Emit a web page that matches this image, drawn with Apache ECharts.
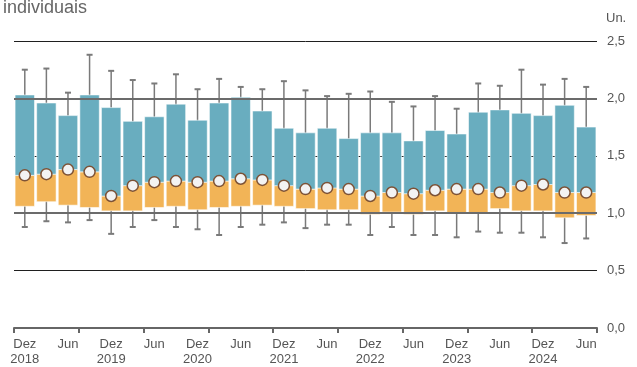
<!DOCTYPE html>
<html>
<head>
<meta charset="UTF-8">
<script src="https://cdn.jsdelivr.net/npm/echarts@6/dist/echarts.min.js"></script>
<style>
  html, body { margin: 0; padding: 0; background: #fff; }
  #chart { width: 637px; height: 367px; }
</style>
</head>
<body>
<div id="chart"></div>
<script>
// trimestres, Dez 2018 .. Jun 2025
var categories = [
  'Dez\n2018', 'Mar', 'Jun', 'Set',
  'Dez\n2019', 'Mar', 'Jun', 'Set',
  'Dez\n2020', 'Mar', 'Jun', 'Set',
  'Dez\n2021', 'Mar', 'Jun', 'Set',
  'Dez\n2022', 'Mar', 'Jun', 'Set',
  'Dez\n2023', 'Mar', 'Jun', 'Set',
  'Dez\n2024', 'Mar', 'Jun'
];
var whiskerLow  = [0.88, 0.93, 0.92, 0.94, 0.82, 0.88, 0.94, 0.88, 0.86, 0.81, 0.88, 0.90, 0.92, 0.87,
                   0.90, 0.90, 0.81, 0.88, 0.81, 0.81, 0.79, 0.84, 0.83, 0.83, 0.79, 0.74, 0.78];
var boxLow      = [1.06, 1.10, 1.07, 1.05, 1.02, 1.02, 1.05, 1.06, 1.03, 1.05, 1.06, 1.07, 1.06, 1.04,
                   1.03, 1.03, 0.99, 1.01, 0.99, 1.02, 1.00, 1.00, 1.04, 1.02, 1.02, 0.96, 0.98];
var median      = [1.33, 1.34, 1.38, 1.36, 1.15, 1.24, 1.27, 1.28, 1.27, 1.28, 1.30, 1.29, 1.24, 1.21,
                   1.22, 1.21, 1.15, 1.18, 1.17, 1.20, 1.21, 1.21, 1.18, 1.24, 1.25, 1.18, 1.18];
var boxHigh     = [2.03, 1.96, 1.85, 2.03, 1.92, 1.80, 1.84, 1.95, 1.81, 1.96, 2.01, 1.89, 1.74, 1.70,
                   1.74, 1.65, 1.70, 1.70, 1.63, 1.72, 1.69, 1.88, 1.90, 1.87, 1.85, 1.94, 1.75];
var whiskerHigh = [2.25, 2.26, 2.05, 2.38, 2.24, 2.16, 2.13, 2.21, 2.08, 2.17, 2.10, 2.08, 2.15, 2.07,
                   2.02, 2.04, 2.06, 1.97, 1.93, 2.02, 1.91, 2.13, 2.11, 2.25, 2.12, 2.17, 2.10];
var refLines = [1, 2];

var boxData = categories.map(function (c, i) {
  return [i, whiskerLow[i], boxLow[i], median[i], boxHigh[i], whiskerHigh[i]];
});

var chart = echarts.init(document.getElementById('chart'));

function renderBox(params, api) {
  var x = api.value(0);
  var wlo = api.coord([x, api.value(1)]);
  var lo = api.coord([x, api.value(2)]);
  var med = api.coord([x, api.value(3)]);
  var hi = api.coord([x, api.value(4)]);
  var whi = api.coord([x, api.value(5)]);
  var bw = api.size([1, 0])[0] * 0.9;
  var cx = med[0];
  var capW = 3;
  return {
    type: 'group',
    children: [
      { type: 'line', shape: { x1: cx, y1: wlo[1], x2: cx, y2: whi[1] },
        style: { stroke: '#7a7a7a', lineWidth: 1.5 } },
      { type: 'line', shape: { x1: cx - capW, y1: whi[1], x2: cx + capW, y2: whi[1] },
        style: { stroke: '#7a7a7a', lineWidth: 2 } },
      { type: 'line', shape: { x1: cx - capW, y1: wlo[1], x2: cx + capW, y2: wlo[1] },
        style: { stroke: '#7a7a7a', lineWidth: 2 } },
      { type: 'rect', shape: { x: cx - bw / 2, y: med[1], width: bw, height: lo[1] - med[1] },
        style: { fill: '#f2b457', stroke: 'rgba(255,255,255,0.55)', lineWidth: 1 } },
      { type: 'rect', shape: { x: cx - bw / 2, y: hi[1], width: bw, height: med[1] - hi[1] },
        style: { fill: '#69adbf', stroke: 'rgba(255,255,255,0.55)', lineWidth: 1 } },
      { type: 'circle', shape: { cx: cx, cy: med[1], r: 5.5 },
        style: { fill: '#f3f3f3', stroke: '#7d5236', lineWidth: 1.5 } }
    ]
  };
}

chart.setOption({
  animation: false,
  textStyle: { fontFamily: 'Liberation Sans, Arial, sans-serif' },
  grid: { left: 14, right: 40, top: 41, bottom: 38 },
  graphic: [
    { type: 'text', left: 3, top: -1,
      style: { text: 'individuais', font: '18px Liberation Sans, Arial, sans-serif', fill: '#666' } },
    { type: 'text', left: 606, top: 12,
      style: { text: 'Un.', font: '13px Liberation Sans, Arial, sans-serif', fill: '#555' } }
  ],
  xAxis: {
    type: 'category',
    data: categories,
    boundaryGap: true,
    z: 5,
    axisLine: { show: true, lineStyle: { color: '#666', width: 2 } },
    axisTick: { show: true, alignWithLabel: false, interval: 2, length: 5, lineStyle: { color: '#666', width: 2 } },
    axisLabel: { interval: 1, color: '#555', fontSize: 13, lineHeight: 15, margin: 9 },
    splitLine: { show: false }
  },
  yAxis: {
    type: 'value',
    position: 'right',
    min: 0,
    max: 2.5,
    interval: 0.5,
    axisLine: { show: false },
    axisTick: { show: false },
    axisLabel: {
      color: '#555', fontSize: 13, margin: 10,
      formatter: function (v) { return v.toFixed(1).replace('.', ','); }
    },
    splitLine: { showMinLine: false, lineStyle: { color: '#1f1f1f', width: 1 } }
  },
  series: [
    {
      type: 'line',
      data: [],
      z: 1,
      silent: true,
      markLine: {
        symbol: 'none',
        silent: true,
        label: { show: false },
        lineStyle: { color: '#6b6b6b', width: 2, type: 'solid' },
        data: refLines.map(function (v) { return { yAxis: v }; })
      }
    },
    {
      type: 'custom',
      z: 3,
      renderItem: renderBox,
      encode: { x: 0, y: [1, 2, 3, 4, 5] },
      data: boxData
    }
  ]
});
</script>
</body>
</html>
